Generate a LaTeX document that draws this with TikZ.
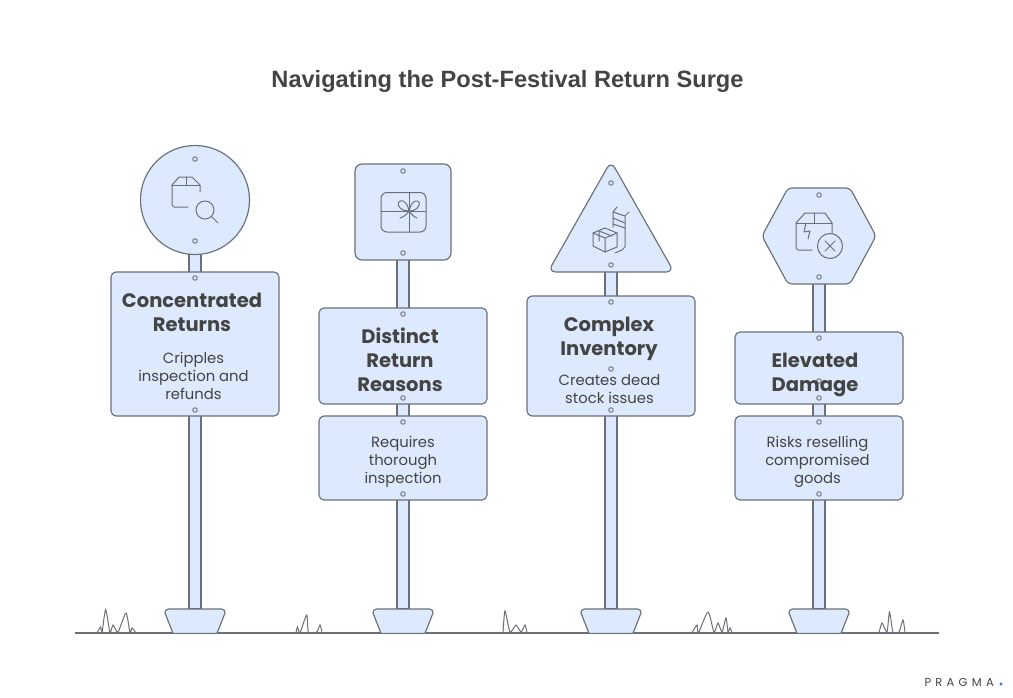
\documentclass[tikz,border=0pt]{standalone}
\usepackage{fontspec}
\setmainfont{Poppins}
\newfontfamily\titlefont{Liberation Sans}
\usetikzlibrary{positioning}
\definecolor{signfill}{HTML}{DDE9FD}
\definecolor{signline}{HTML}{6A7078}
\definecolor{inktext}{HTML}{444444}
\definecolor{branddot}{HTML}{3B6FE0}
\tikzset{
  signline/.style={draw=signline,line width=1.15pt,fill=signfill,line join=round},
  iconline/.style={draw=signline,line width=1pt,line cap=round,line join=round},
  grassline/.style={draw=signline,line width=1pt},
  signbox/.style={signline,rounded corners=5pt,minimum width=168pt,inner sep=0pt},
  headtext/.style={text=inktext,font=\fontsize{19.5}{24}\selectfont\bfseries,align=center},
  bodytext/.style={text=inktext,font=\fontsize{14.8}{18}\selectfont,align=center},
  hole/.style={circle,draw=signline,line width=0.9pt,fill=signfill,minimum size=4.5pt,inner sep=0pt}
}
\newcommand{\signpost}[1]{%
  \draw[signline] (#1-6,250) rectangle (#1+6,609);
  \draw[signline] (#1-22,633.4) -- (#1-30,613) [rounded corners=4pt] -- (#1-30.5,609) -- (#1+30.5,609) [sharp corners] -- (#1+30,613) -- (#1+22,633.4) -- cycle;
}
\begin{document}
\begin{tikzpicture}[x=1pt,y=-1pt]
\useasboundingbox (0,0) rectangle (1013,697);
\node[text=inktext,font=\titlefont\fontsize{23.6}{28}\selectfont\bfseries] (title) at (507.5,81.5) {Navigating the Post-Festival Return Surge};
% ground
\draw[grassline,line width=1.1pt] (75,633) -- (939,633);
\signpost{195}
\signpost{403}
\signpost{611}
\signpost{819}
% grass
\draw[grassline] plot[smooth,tension=0.4] coordinates {(97,632.7) (100.7,627) (102,632.7) (105.7,609.5) (110,632.7) (113,625) (118,632) (126,613) (130,632.7) (132,628) (135.7,632.7)};
\draw[grassline] plot[smooth,tension=0.4] coordinates {(296,632.7) (297.5,627) (300,632.7) (306.7,615) (308.5,632.7) (316.7,632) (320,625) (322,632.7)};
\draw[grassline] plot[smooth,tension=0.4] coordinates {(503,632.7) (505,611) (510,632) (516,625) (521,632) (525,625) (527,632.7)};
\draw[grassline] plot[smooth,tension=0.4] coordinates {(692,632.7) (697,625) (698.5,632.7) (708,612) (714,632) (718,623) (722,632) (726,618) (728,632) (730,628) (732,632.7)};
\draw[grassline] plot[smooth,tension=0.4] coordinates {(879,632.7) (882,623) (887,632) (889.5,612) (893,632) (899,632) (903,620) (905,632.7)};
% top signs
\draw[signline] (195,200) circle (54.5);
\draw[signline,rounded corners=7pt] (355,164) rectangle (451,260);
\draw[signline,rounded corners=8pt] (611,161) -- (674,272) -- (548,272) -- cycle;
\draw[signline,rounded corners=4pt] (788,188) -- (850,188) -- (876,236) -- (850,284) -- (788,284) -- (762,236) -- cycle;
% boxes
\node[signbox,minimum height=144pt] (concbox) at (195,344) {};
\node[signbox,minimum height=96pt] (distbox) at (403,356) {};
\node[signbox,minimum height=84pt] (reqbox) at (403,458) {};
\node[signbox,minimum height=120pt] (compbox) at (611,356) {};
\node[signbox,minimum height=72pt] (elevbox) at (819,368) {};
\node[signbox,minimum height=84pt] (riskbox) at (819,458) {};
% holes
\foreach \px/\py in {195/159,195/241,195/278,195/410,403/171,403/253,403/314,403/398,403/422,403/494,611/183,611/265,611/302,611/369,611/410,819/195,819/277,819/338,819/381,819/398,819/422,819/494}
  \node[hole] at (\px,\py) {};
% texts
\node[headtext] (conchead) at (192,312) {Concentrated\\Returns};
\node[bodytext] (concbody) at (193.5,375.5) {Cripples\\inspection and\\refunds};
\node[headtext] (disthead) at (400,360) {Distinct\\Return\\Reasons};
\node[bodytext] (reqbody) at (403,461.5) {Requires\\thorough\\inspection};
\node[headtext] (comphead) at (609,339) {Complex\\Inventory};
\node[bodytext] (compbody) at (609.5,389.5) {Creates dead\\stock issues};
\node[headtext] (elevhead) at (815,375) {Elevated\\Damage};
\node[bodytext] (riskbody) at (817.5,461.5) {Risks reselling\\compromised\\goods};
% icon box and lens
\draw[iconline] (188,207) -- (174,207) -- (172,205) -- (172,185) -- (179,177) -- (192,177) -- (200,185) -- (200,192);
\draw[iconline] (172,185) -- (200,185) (186,177) -- (186,185);
\draw[iconline] (205,210) circle (9) (212,217) -- (218,223);
% icon gift
\draw[iconline,rounded corners=6pt] (381,192.5) rectangle (426,232);
\draw[iconline] (381,211) -- (426,211) (409,192.5) -- (409,232);
\draw[iconline] (409,211) .. controls (396,211) and (396,199) .. (403,201) .. controls (406,202) and (408,206) .. (409,211) .. controls (410,206) and (413,201) .. (416,201) .. controls (422,200) and (420,211) .. (409,211);
\draw[iconline] (400,218) .. controls (404,217) and (407,214) .. (409,211) .. controls (411,214) and (414,217) .. (417,218);
% icon boxes and ladder
\draw[iconline] (593,233) -- (605,228) -- (617,233) -- (617,247) -- (605,252) -- (593,246) -- cycle;
\draw[iconline] (593,233) -- (605,238) -- (617,233) (605,238) -- (605,252);
\draw[iconline] (599,231) -- (612,236) (599,231) -- (599,241);
\draw[iconline] (613,227) -- (613,212) -- (617,207);
\draw[iconline] (629,212) -- (625,216) -- (625,247) -- (622,250) -- (615,253);
\draw[iconline] (613,212) -- (625,216) (613,218) -- (625,223) (613,224) -- (625,228);
% icon broken box and cross
\draw[iconline] (812,250) -- (798,250) -- (796,248) -- (796,223) -- (805,213) -- (825,213) -- (832,223) -- (832,233);
\draw[iconline] (796,223) -- (832,223) (814,213) -- (814,223);
\draw[iconline] (806,223) -- (804,232) -- (810,231) -- (808,239);
\draw[iconline] (830,246) circle (12.5) (825,241) -- (835,251) (835,241) -- (825,251);
% brand
\node[text=inktext,font=\fontsize{11.5}{12}\selectfont,anchor=west] (brand) at (921,682) {\addfontfeature{LetterSpace=37}PRAGMA};
\fill[branddot] (1001,684) circle (1.7);
\end{tikzpicture}
\end{document}
